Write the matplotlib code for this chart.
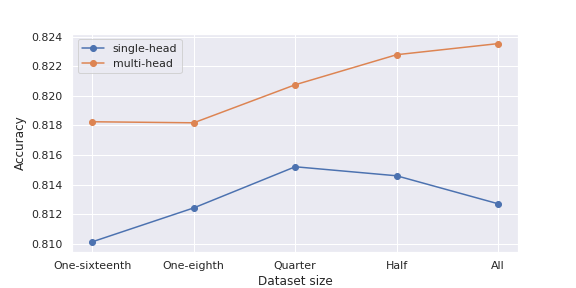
import matplotlib
matplotlib.use("Agg")
import matplotlib.pyplot as plt
import seaborn as sns

sns.set_theme()

sizes = ["One-sixteenth", "One-eighth", "Quarter", "Half", "All"]
single_head = [0.81014, 0.81243, 0.81521, 0.81460, 0.81271]
multi_head = [0.81825, 0.81818, 0.82075, 0.82278, 0.82353]

fig, ax = plt.subplots(figsize=(8, 4), dpi=72)
fig.subplots_adjust(left=0.125, right=0.9, top=0.883, bottom=0.126)

ax.plot(sizes, single_head, marker="o", label="single-head")
ax.plot(sizes, multi_head, marker="o", label="multi-head")

ax.set_xlabel("Dataset size")
ax.set_ylabel("Accuracy")
ax.legend(loc="upper left")

fig.savefig("out.png", dpi=72)
